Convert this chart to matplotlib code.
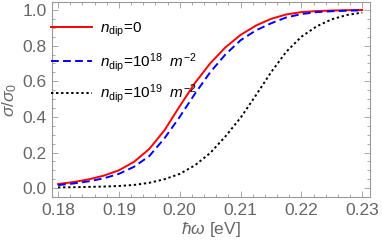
import matplotlib
matplotlib.use("Agg")
import matplotlib.pyplot as plt
from matplotlib.ticker import MultipleLocator, FormatStrFormatter
from matplotlib.legend import Legend

plt.rcParams['font.family'] = ['Liberation Sans', 'DejaVu Sans']
plt.rcParams['mathtext.fontset'] = 'custom'
plt.rcParams['mathtext.rm'] = 'Liberation Sans'
plt.rcParams['mathtext.it'] = 'Liberation Sans:italic'

# photon energy (eV)
energy = [0.18, 0.1825, 0.185, 0.1875, 0.19, 0.1925, 0.195, 0.1975, 0.20, 0.2025,
          0.205, 0.2075, 0.21, 0.2125, 0.215, 0.2175, 0.22, 0.2225, 0.225, 0.2275, 0.23]

# sigma / sigma0
sig_0 = [0.023, 0.034, 0.049, 0.07, 0.10, 0.148, 0.22, 0.325, 0.46, 0.59,
         0.70, 0.79, 0.86, 0.912, 0.95, 0.975, 0.988, 0.994, 0.997, 0.999, 1.0]
sig_18 = [0.017, 0.026, 0.038, 0.055, 0.08, 0.12, 0.18, 0.28, 0.40, 0.53,
          0.65, 0.75, 0.83, 0.885, 0.925, 0.958, 0.977, 0.988, 0.993, 0.996, 0.998]
sig_19 = [0.004, 0.005, 0.007, 0.009, 0.012, 0.018, 0.03, 0.05, 0.08, 0.128,
          0.197, 0.29, 0.395, 0.52, 0.65, 0.765, 0.85, 0.908, 0.948, 0.972, 0.985]

labels = [r'$n_{\rm dip}$=0',
          r'$n_{\rm dip}$=10$^{18}$  $m^{-2}$',
          r'$n_{\rm dip}$=10$^{19}$  $m^{-2}$']
leg_y = [0.856, 0.692, 0.528]

gray = '#666666'

fig = plt.figure(figsize=(3.82, 2.46), dpi=100)
ax = fig.add_axes([0.136, 0.199, 0.833, 0.793])

l0, = ax.plot(energy, sig_0, color='#ff0000', lw=1.4)
l1, = ax.plot(energy, sig_18, color='#0000ff', lw=1.4, dashes=(4, 2.2))
l2, = ax.plot(energy, sig_19, color='black', lw=1.4, dashes=(1.2, 1.4))

ax.set_xlim(0.179, 0.2313)
ax.set_ylim(-0.05, 1.045)
ax.xaxis.set_major_locator(MultipleLocator(0.01))
ax.xaxis.set_minor_locator(MultipleLocator(0.002))
ax.yaxis.set_major_locator(MultipleLocator(0.2))
ax.yaxis.set_minor_locator(MultipleLocator(0.05))
ax.xaxis.set_major_formatter(FormatStrFormatter('%.2f'))
ax.yaxis.set_major_formatter(FormatStrFormatter('%.1f'))

for s in ax.spines.values():
    s.set_color('#999999')
    s.set_linewidth(0.8)
ax.tick_params(which='both', direction='in', top=True, right=True,
               color='#999999', labelcolor=gray, labelsize=12.5, width=0.6)
ax.tick_params(which='major', length=4.5, pad=4)
ax.tick_params(which='minor', length=2.5)

ax.set_xlabel(r'$\hbar\omega$ [eV]', color=gray, fontsize=12.5, labelpad=2)
ax.set_ylabel(r'$\sigma/\sigma_0$', color=gray, fontsize=12.5, labelpad=2)

# one legend per entry so the rows sit evenly
for line, lab, y in zip([l0, l1, l2], labels, leg_y):
    leg = Legend(ax, [line], [lab], loc='center left', bbox_to_anchor=(-0.003, y),
                 frameon=False, fontsize=11, handlelength=2.7, handletextpad=0.5,
                 borderaxespad=0, borderpad=0)
    ax.add_artist(leg)

fig.savefig('out.png', dpi=100)
